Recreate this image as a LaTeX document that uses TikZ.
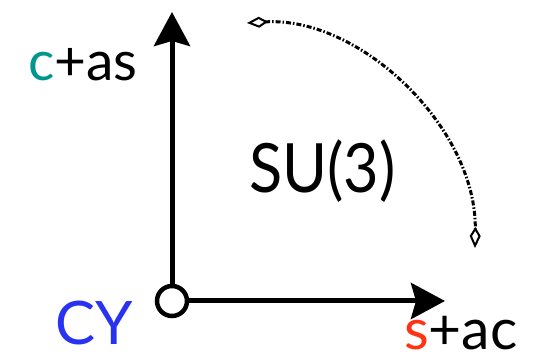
\documentclass[tikz,border=0pt]{standalone}
\usepackage{fontspec}
\setmainfont{Lato}
\usetikzlibrary{arrows.meta}
\definecolor{cteal}{RGB}{0,150,140}
\definecolor{cyblue}{RGB}{40,50,240}
\definecolor{sred}{RGB}{255,50,20}
\begin{document}
\begin{tikzpicture}[x=1pt,y=-1pt,
  axis/.style={line width=5pt,-{Stealth[length=34pt,width=36pt,inset=5pt]}},
  lbl/.style={inner sep=0pt,anchor=base west,text depth=0pt},
  rot/.style={line width=3pt,dash pattern=on 5pt off 2pt on 1.5pt off 2pt,
    {Kite[open,length=21pt,width=11pt,inset=9pt,line width=2pt]}-{Kite[open,length=21pt,width=11pt,inset=9pt,line width=2pt]}}]
\useasboundingbox (0,0) rectangle (542,355);
\node[circle,draw,line width=4.5pt,minimum size=30pt,inner sep=0pt] (o) at (172,301) {};
\coordinate (top) at (172,12);
\coordinate (right) at (445,301);
\draw[axis] (o.north) -- (top);
\draw[axis] (o.east) -- (right);
\node[lbl,font=\fontsize{55}{55}\selectfont] (cas) at (28,81) {\textcolor{cteal}{c}+as};
\node[lbl,font=\fontsize{60}{60}\selectfont,text=cyblue] (cy) at (55,345) {CY};
\node[lbl,font=\fontsize{57}{57}\selectfont] (sac) at (404,350) {\textcolor{sred}{s}+ac};
\node[lbl,font=\fontsize{68}{68}\selectfont,xscale=0.9] (su) at (249,193) {SU(3)};
\coordinate (a1) at (247,23);
\coordinate (a2) at (475,248);
\draw[rot] (a1) .. controls (360,16) and (477,128) .. (a2);
\end{tikzpicture}
\end{document}
